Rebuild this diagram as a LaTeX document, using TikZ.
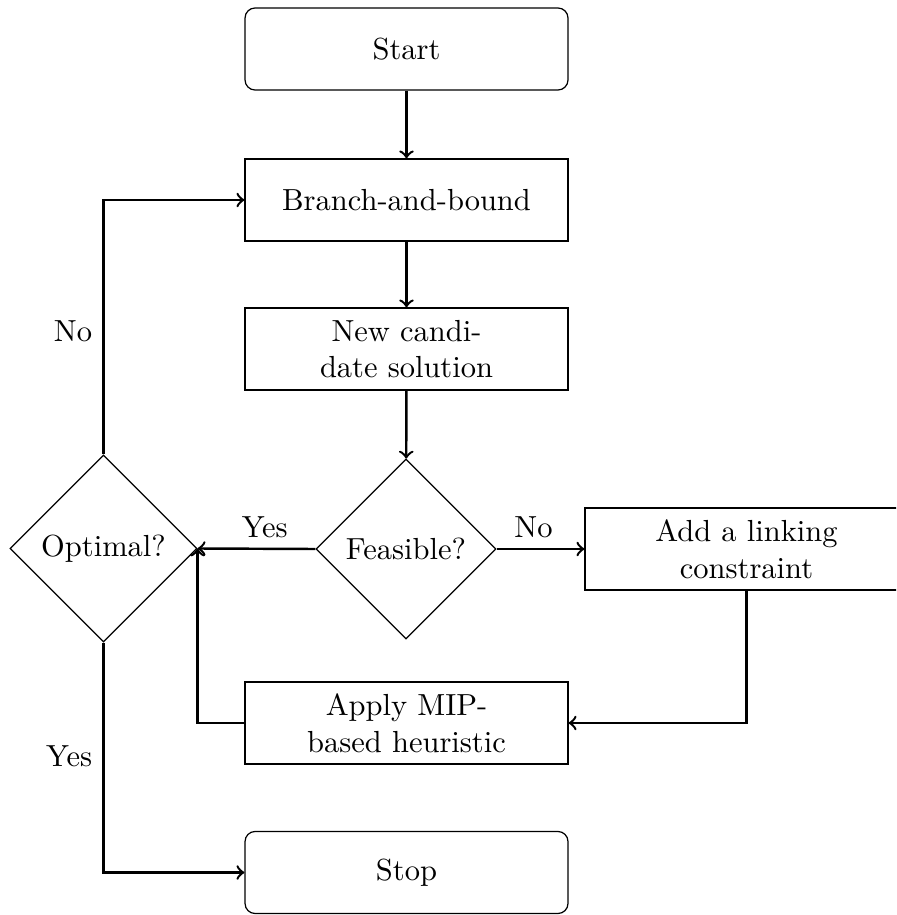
\documentclass[tikz,border=0pt]{standalone}
\usetikzlibrary{shapes.geometric,arrows}
\begin{document}
\begin{tikzpicture}[x=0.3279pt,y=-0.3279pt,
  procbox/.style={draw,rectangle,minimum width=105.9pt,minimum height=26.9pt,align=center,inner sep=0pt},
  termbox/.style={procbox,rounded corners=3.3pt},
  decbox/.style={draw,diamond,aspect=1,inner sep=0pt,align=center},
  conn/.style={->,thick}]
\useasboundingbox (0,0) rectangle (896,915);
\clip (0,0) rectangle (896,915);
\node[termbox] (start) at (406.5,49) {Start};
\node[procbox] (bb) at (406.5,200) {Branch-and-bound};
\node[procbox] (new) at (406.5,349) {New candi-\\date solution};
\node[decbox,minimum width=59pt,minimum height=59pt] (feas) at (406,549) {Feasible?};
\node[decbox,minimum width=61.3pt,minimum height=61.3pt] (opt) at (103.5,548.5) {Optimal?};
\node[procbox] (add) at (746.5,549) {Add a linking\\constraint};
\node[procbox] (apply) at (406.5,723) {Apply MIP-\\based heuristic};
\node[termbox] (stop) at (406.5,872.5) {Stop};
\draw[conn] (start) -- (bb);
\draw[conn] (bb) -- (new);
\draw[conn] (new) -- (feas);
\draw[conn] (feas.west) -- node[above,pos=0.43] {Yes} (opt.east);
\draw[conn] (feas.east) -- node[above,pos=0.42] {No} (add.west);
\draw[conn] (add.south) |- (apply.east);
\draw[conn] (apply.west) -| (opt.east);
\draw[conn] (opt.north) |- node[left,pos=0.243] {No} (bb.west);
\draw[conn] (opt.south) |- node[left,pos=0.248] {Yes} (stop.west);
\end{tikzpicture}
\end{document}
